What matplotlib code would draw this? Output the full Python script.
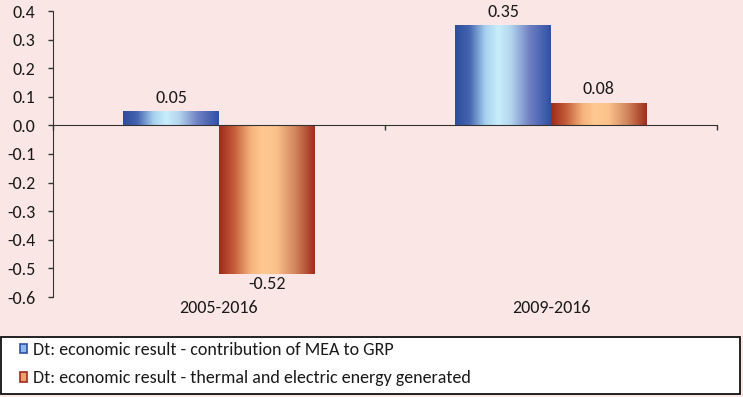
import matplotlib
matplotlib.use("Agg")
import matplotlib.pyplot as plt
import numpy as np
from matplotlib.colors import LinearSegmentedColormap
from matplotlib.patches import Patch, Rectangle

categories = ["2005-2016", "2009-2016"]
series_names = ["Dt: economic result - contribution of MEA to GRP",
                "Dt: economic result - thermal and electric energy generated"]
mea_values = [0.05, 0.35]
energy_values = [-0.52, 0.08]
value_labels = [["0.05", "0.35"], ["-0.52", "0.08"]]
yticks = [0.4, 0.3, 0.2, 0.1, 0.0, -0.1, -0.2, -0.3, -0.4, -0.5, -0.6]

bg = "#FAE7E5"
blue_cmap = LinearSegmentedColormap.from_list("b", [
    (0.0, "#2C4C9E"), (0.15, "#4565B0"), (0.32, "#A8D2F0"), (0.45, "#C8EEFB"),
    (0.58, "#B4D6EE"), (0.78, "#6F80C2"), (1.0, "#2F50A6")])
orange_cmap = LinearSegmentedColormap.from_list("o", [
    (0.0, "#9E2A1A"), (0.15, "#C25A38"), (0.33, "#F5B27C"), (0.45, "#FFC892"),
    (0.6, "#FBC28C"), (0.8, "#D0845A"), (1.0, "#A02C1C")])

plt.rcParams['font.family'] = ['Carlito', 'DejaVu Sans']
fs = 13
txt_color = "#1a1a1a"
fig = plt.figure(figsize=(7.43, 3.97), dpi=100, facecolor=bg)
ax = fig.add_axes([53/743, 1-297/397, (717-53)/743, (297-11)/397])
ax.set_facecolor(bg)

x = np.arange(len(categories))
w = 0.289
grad = np.linspace(0, 1, 256).reshape(1, -1)
for vals, off, cmap, labs in [(mea_values, -w/2, blue_cmap, value_labels[0]),
                              (energy_values, w/2, orange_cmap, value_labels[1])]:
    bars = ax.bar(x + off, vals, width=w, facecolor="none", edgecolor="none", zorder=2)
    for b, v, lab in zip(bars, vals, labs):
        x0, y0 = b.get_x(), b.get_y()
        bw, bh = b.get_width(), b.get_height()
        im = ax.imshow(grad, cmap=cmap, aspect="auto",
                       extent=[x0, x0 + bw, min(y0, y0 + bh), max(y0, y0 + bh)],
                       zorder=2, interpolation="bicubic")
        im.set_clip_path(b)
        if v >= 0:
            ax.annotate(lab, (x0 + bw/2, v), xytext=(0, 4), textcoords="offset points",
                        ha="center", va="bottom", fontsize=fs, color=txt_color)
        else:
            ax.annotate(lab, (x0 + bw/2, v), xytext=(0, -1), textcoords="offset points",
                        ha="center", va="top", fontsize=fs, color=txt_color)

ax.set_xlim(-0.5, 1.5)
ax.set_ylim(-0.6, 0.4)
ax.set_yticks(yticks)
ax.set_yticklabels([f"{t:.1f}" for t in yticks], fontsize=fs, color=txt_color)
ax.tick_params(axis="y", direction="out", length=3.6, width=1, color="#333333", pad=9)

for s in ["top", "right"]:
    ax.spines[s].set_visible(False)
ax.spines["left"].set_color("#333333")
ax.spines["bottom"].set_position(("data", 0))
ax.spines["bottom"].set_color("#333333")
ax.spines["bottom"].set_zorder(3)
ax.set_xticks([])
ax.set_xticks([-0.5, 0.5, 1.5], minor=True)
ax.tick_params(axis="x", which="minor", direction="out", length=3.6, width=1, color="#333333")

sec = ax.secondary_xaxis("bottom")
sec.set_xticks(x)
sec.set_xticklabels(categories, fontsize=fs, color=txt_color)
sec.tick_params(length=0, pad=2.5)
sec.spines["bottom"].set_visible(False)

# legend frame
fig.patches.append(Rectangle((1/743, 3/397), 739/743, 57/397, transform=fig.transFigure,
                             facecolor="white", edgecolor="#111111", linewidth=1.3, zorder=0))
handles = [Patch(facecolor="#8FB8E6", edgecolor="#2F50A6", linewidth=1.2),
           Patch(facecolor="#EFA070", edgecolor="#A02C1C", linewidth=1.2)]
leg = fig.legend(handles, series_names, loc="upper left",
                 bbox_to_anchor=(20/743, 1-342/397),
                 ncol=1, fontsize=fs, frameon=False,
                 handlelength=0.4, handleheight=0.45, handletextpad=0.3,
                 borderaxespad=0, labelspacing=0.68, borderpad=0)
for t in leg.get_texts():
    t.set_color(txt_color)

fig.savefig("out.png", dpi=100, facecolor=bg)
